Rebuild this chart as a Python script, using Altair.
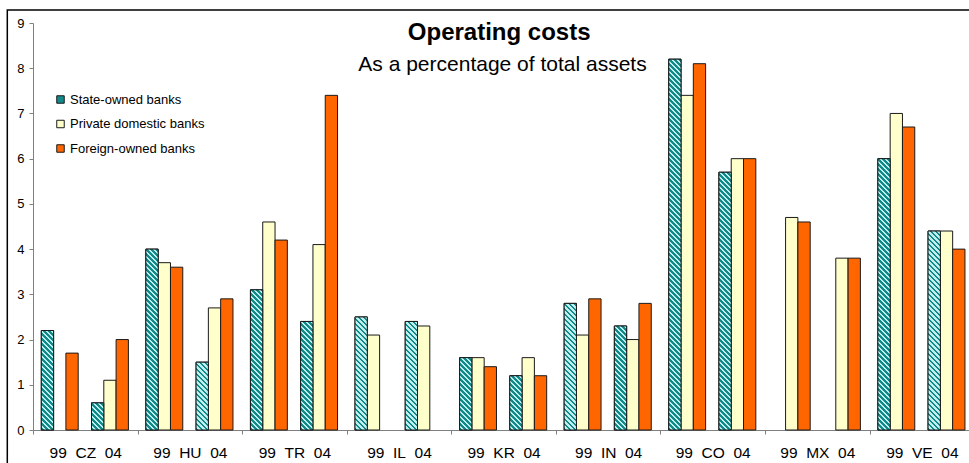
import altair as alt

# ---- data -------------------------------------------------------------
countries = ["CZ", "HU", "TR", "IL", "KR", "IN", "CO", "MX", "VE"]
years = ["99", "04"]
banks = ["State-owned banks", "Private domestic banks", "Foreign-owned banks"]

state_99 = [2.2, 4.0, 3.1, 2.5, 1.6, 2.8, 8.2, None, 6.0]
private_99 = [None, 3.7, 4.6, 2.1, 1.6, 2.1, 7.4, 4.7, 7.0]
foreign_99 = [1.7, 3.6, 4.2, None, 1.4, 2.9, 8.1, 4.6, 6.7]
state_04 = [0.6, 1.5, 2.4, 2.4, 1.2, 2.3, 5.7, None, 4.4]
private_04 = [1.1, 2.7, 4.1, 2.3, 1.6, 2.0, 6.0, 3.8, 4.4]
foreign_04 = [2.0, 2.9, 7.4, None, 1.2, 2.8, 6.0, 3.8, 4.0]

y_ticks = list(range(0, 10))
title_text = "Operating costs"
subtitle_text = "As a percentage of total assets"

# ---- layout / style ---------------------------------------------------
FONT = "Liberation Sans"
PLOT_W, PLOT_H = 936, 407
GROUP_PX = 104.57                     # width of one country group
X_MAX = PLOT_W / GROUP_PX             # axis runs past the right edge
BAR = 12.3 / GROUP_PX                 # bar width in group units
SET_OFFSET = [8.3 / GROUP_PX, 58.5 / GROUP_PX]   # start of the 99 / 04 triplets
Y_MAX = 9
PX_PER_UNIT = PLOT_H / Y_MAX

TEAL, TEAL_LIGHT = "#138a8a", "#bfeeee"
CREAM, ORANGE = "#ffffcc", "#ff6600"
STRIPE = 5.0                          # hatch period in px
DARK_SHARE = 0.55                     # share of each period in dark teal


def hatch(w, h):
    """Diagonal stripe gradient for a w x h px box (stripes run top-left to bottom-right)."""
    k = (w + h) / (w * w + h * h)
    period = STRIPE / (w + h)
    stops, t, i = [], 0.0, 0
    while t < 1:
        dark = i % 2 == 0
        c = TEAL if dark else TEAL_LIGHT
        t_end = min(t + period * (DARK_SHARE if dark else 1 - DARK_SHARE), 1.0)
        stops.append({"offset": round(t, 5), "color": c})
        stops.append({"offset": round(t_end, 5), "color": c})
        t, i = t_end, i + 1
    return {"gradient": "linear", "x1": 0, "y1": 1,
            "x2": round(w * k, 5), "y2": round(1 - h * k, 5), "stops": stops}


series = {
    ("99", banks[0]): state_99, ("99", banks[1]): private_99, ("99", banks[2]): foreign_99,
    ("04", banks[0]): state_04, ("04", banks[1]): private_04, ("04", banks[2]): foreign_04,
}

bar_px = BAR * GROUP_PX
records = []
for g, c in enumerate(countries):
    for j, yr in enumerate(years):
        for k, b in enumerate(banks):
            v = series[(yr, b)][g]
            if v is None:
                continue
            x0 = g + SET_OFFSET[j] + k * BAR
            rec = {"country": c, "year": yr, "bank": b, "value": v,
                   "x0": x0, "x1": x0 + BAR, "base": 0}
            if k == 0:
                rec["grad"] = hatch(bar_px, max(v * PX_PER_UNIT, 1.0))
            records.append(rec)

bars_data = alt.Data(values=records)
hatch_data = alt.Data(values=[r for r in records if r["bank"] == banks[0]])

group_labels = ["\u00a0\u00a0".join(["99", c, "04"]) for c in countries]
label_expr = "[" + ",".join("'" + s + "'" for s in group_labels) + "][datum.value]"

x_enc = alt.X(
    "x0:Q",
    scale=alt.Scale(domain=[0, X_MAX], nice=False, zero=False),
    axis=alt.Axis(
        title=None, values=list(range(len(countries))), labelExpr=label_expr,
        labelOffset=GROUP_PX / 2, labelFlush=False, labelOverlap=False,
        labelBound=False, labelFont=FONT, labelFontSize=15.5, labelColor="#000",
        labelPadding=11, tickSize=4, tickColor="#808080", domainColor="#808080",
        grid=False,
    ),
)
y_enc = alt.Y(
    "value:Q",
    scale=alt.Scale(domain=[0, Y_MAX], nice=False),
    axis=alt.Axis(
        title=None, values=y_ticks, labelFont=FONT, labelFontSize=13,
        labelColor="#000", labelPadding=5, tickSize=4, tickColor="#808080",
        domainColor="#808080", grid=False,
    ),
)

bars = alt.Chart(bars_data).mark_rect(stroke="#1a1a1a", strokeWidth=1).encode(
    x=x_enc,
    x2="x1:Q",
    y=y_enc,
    y2="base:Q",
    fill=alt.Fill(
        "bank:N",
        scale=alt.Scale(domain=banks, range=[TEAL, CREAM, ORANGE]),
        legend=alt.Legend(
            title=None, orient="none", legendX=21, legendY=70, padding=0,
            symbolType="square", symbolSize=56, symbolStrokeColor="#000",
            symbolStrokeWidth=1, symbolOpacity=1, labelFont=FONT,
            labelFontSize=13, labelColor="#000", labelOffset=3, rowPadding=10.5,
        ),
    ),
)

hatched = alt.Chart(hatch_data).mark_rect(stroke="#1a1a1a", strokeWidth=1).encode(
    x=x_enc,
    x2="x1:Q",
    y=y_enc,
    y2="base:Q",
    fill=alt.Fill("grad:N", scale=None),
)

title = alt.Chart(alt.Data(values=[{"t": title_text}])).mark_text(
    font=FONT, fontSize=24, fontWeight="bold", color="#000",
    align="center", baseline="alphabetic",
).encode(text="t:N", x=alt.value(466.2), y=alt.value(16.6))

subtitle = alt.Chart(alt.Data(values=[{"t": subtitle_text}])).mark_text(
    font=FONT, fontSize=21, color="#000", align="center", baseline="alphabetic",
).encode(text="t:N", x=alt.value(469.5), y=alt.value(47.7))

# surrounding frame; its right and bottom edges fall outside the view
frame = alt.Chart(alt.Data(values=[{"k": 0}])).mark_rect(
    fill="#ffffff", fillOpacity=0, stroke="#000", strokeWidth=1.5
).encode(
    x=alt.value(-25.7), x2=alt.value(PLOT_W + 60),
    y=alt.value(-13), y2=alt.value(PLOT_H + 60),
)

chart = (
    alt.layer(bars, hatched, title, subtitle, frame)
    .properties(
        width=PLOT_W, height=PLOT_H,
        autosize=alt.AutoSizeParams(type="none"),
        padding={"left": 33, "top": 23, "right": 0, "bottom": 33},
        background="#ffffff",
    )
    .configure_view(stroke=None)
)

chart.save("out.html", embed_options={"renderer": "svg", "actions": False})
